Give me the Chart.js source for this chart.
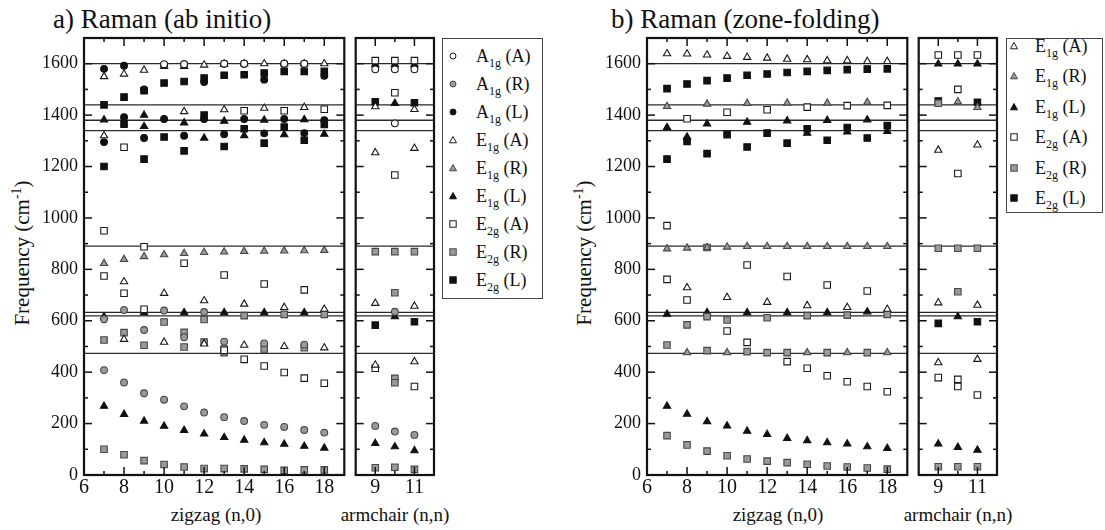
<!DOCTYPE html>
<html>
<head>
<meta charset="utf-8">
<script src="https://cdn.jsdelivr.net/npm/chart.js@4.4.1/dist/chart.umd.min.js"></script>
<style>
  body { margin: 0; background: #fff; width: 1105px; height: 530px; overflow: hidden; position: relative;
         font-family: "Liberation Serif", "Times New Roman", "DejaVu Serif", serif; color: #111; }
  canvas { position: absolute; top: 0; }
  .title { position: absolute; top: 6px; font-size: 27px; line-height: 27px; white-space: nowrap; }
  .ytitle { position: absolute; font-size: 21px; white-space: nowrap; transform: translate(-50%, -50%) rotate(-90deg); }
  .ytitle sup { font-size: 14px; }
  .xtitle { position: absolute; top: 503px; font-size: 19px; line-height: 24px; white-space: nowrap; transform: translateX(-50%); }
  .legend { position: absolute; top: 38px; border: 1.5px solid #444; box-sizing: border-box; background: #fff; }
  .row { position: absolute; left: 0; height: 22px; white-space: nowrap; font-size: 18px; }
  .row svg { position: absolute; top: 6px; }
  .row span { position: absolute; top: 0; line-height: 22px; }
  .row sub { font-size: 12px; }
</style>
</head>
<body>
<div class="title" style="left:53px">a) Raman (ab initio)</div>
<div class="title" style="left:611px">b) Raman (zone-folding)</div>
<div class="ytitle" style="left:22px; top:253px">Frequency (cm<sup>-1</sup>)</div>
<div class="ytitle" style="left:584px; top:253px">Frequency (cm<sup>-1</sup>)</div>
<div class="xtitle" style="left:216px">zigzag (n,0)</div>
<div class="xtitle" style="left:395px">armchair (n,n)</div>
<div class="xtitle" style="left:778px">zigzag (n,0)</div>
<div class="xtitle" style="left:958px">armchair (n,n)</div>

<canvas id="abZz" width="350" height="530" style="left:0px"></canvas>
<canvas id="abAc" width="90" height="530" style="left:350px"></canvas>
<canvas id="zfZz" width="350" height="530" style="left:563px"></canvas>
<canvas id="zfAc" width="90" height="530" style="left:913px"></canvas>

<div id="legA" class="legend" style="left:442px; width:101px; height:261px"></div>
<div id="legB" class="legend" style="left:1006px; width:97px; height:175px"></div>

<script>
// tubes and axes
const zigzagN = [7, 8, 9, 10, 11, 12, 13, 14, 15, 16, 17, 18];
const armchairN = [9, 10, 11];
const graphiteLines = [1600, 1440, 1380, 1340, 890, 633, 619, 473];
const freqTicks = [0, 200, 400, 600, 800, 1000, 1200, 1400, 1600];
const freqMinor = [100, 300, 500, 700, 900, 1100, 1300, 1500];
const zigzagTicks = [6, 8, 10, 12, 14, 16, 18];
const zigzagMinor = [7, 9, 11, 13, 15, 17];
const armchairTicks = [9, 11];
const armchairMinor = [10];

// a) ab initio, zigzag (one row per branch, n = 7..18)
const abZzA1gA = [[null, null, null, 1598, 1598, null, 1600, 1600, null, 1600, 1600, null]];
const abZzA1gR = [
  [408, 360, 318, 293, 267, 243, 225, 210, 195, 187, 175, 165],
  [606, 642, 564, 640, 536, 634, 519, null, 512, null, 507, null]
];
const abZzA1gL = [
  [1580, 1592, 1500, 1595, 1598, 1529, 1600, 1600, 1538, 1600, 1600, 1553],
  [1295, 1392, 1311, 1385, 1320, 1385, 1326, 1385, 1329, 1385, 1330, 1380]
];
const abZzE1gA = [
  [1550, 1560, 1575, 1590, 1590, 1595, 1598, 1600, 1600, 1600, 1600, 1600],
  [1320, null, null, null, 1414, null, 1421, null, 1427, null, 1430, null],
  [null, 752, null, 707, null, 678, null, 665, null, 652, null, 645],
  [null, 528, null, 517, null, 510, null, 505, null, 500, null, 495]
];
const abZzE1gR = [[823, 839, 850, 857, 862, 866, 868, 870, 871, 872, 873, 874]];
const abZzE1gL = [
  [1382, null, 1400, null, 1370, null, 1377, null, 1381, null, 1383, null],
  [null, null, 1356, null, null, 1311, null, 1320, null, 1324, null, 1326],
  [616, null, 632, null, 632, null, 632, null, 632, null, 632, null],
  [268, 236, 210, 190, 174, 160, 146, 136, 126, 120, 112, 105]
];
const abZzE2gA = [
  [null, 1275, null, null, null, null, null, 1417, null, 1417, null, 1423],
  [950, 707, 888, null, 824, null, 778, null, 743, null, 720, null],
  [774, null, 645, null, null, null, null, null, null, null, null, null],
  [null, null, null, null, null, null, 485, 450, 424, 399, 377, 357]
];
const abZzE2gR = [
  [525, 554, 505, 595, 555, 605, 490, 620, 490, 625, 495, 625],
  [null, null, null, null, 498, 517, 476, null, null, null, null, null],
  [100, 79, 56, 41, 31, 25, 25, 24, 22, 18, 20, 20]
];
const abZzE2gL = [
  [1440, 1470, 1495, 1525, 1531, 1544, 1555, 1557, 1564, 1570, 1570, 1570],
  [1200, 1365, 1229, 1315, 1261, 1400, 1278, 1347, 1291, 1354, 1302, 1364]
];

// a) ab initio, armchair (n = 9..11)
const abAcA1gA = [[1578, 1578, 1578], [null, 1368, null]];
const abAcA1gR = [[null, 635, null], [191, 169, 156]];
const abAcE1gA = [[1433, null, 1422], [1254, null, 1271], [668, null, 657], [428, null, 441]];
const abAcE1gL = [[1597, 1597, 1597], [null, 1446, null], [null, 616, null], [123, 110, 95]];
const abAcE2gA = [[1612, 1612, 1612], [null, 1487, null], [null, 1167, null], [415, null, 344]];
const abAcE2gR = [[869, 869, 869], [null, 709, null], [null, 376, null], [null, 359, null], [28, 30, 22]];
const abAcE2gL = [[1452, null, 1448], [583, null, 596]];

// b) zone-folding, zigzag
const zfZzE1gA = [
  [1639, 1638, 1634, 1629, 1625, 1622, 1618, 1616, 1612, 1612, 1609, 1609],
  [null, 729, null, 691, null, 672, null, 659, null, 652, null, 645]
];
const zfZzE1gR = [
  [1434, null, 1443, null, 1446, null, 1447, null, 1447, null, 1450, null],
  [880, 883, 885, 887, 889, 889, 889, 889, 889, 889, 889, 889],
  [null, 476, null, 476, null, null, null, 476, null, 476, null, 476]
];
const zfZzE1gL = [
  [1352, null, 1366, null, 1373, null, 1378, null, 1380, null, 1382, null],
  [null, 1315, null, null, null, null, null, 1330, null, 1335, null, 1337],
  [626, null, 632, null, 632, null, 632, null, 632, null, 635, null],
  [268, 237, 208, 191, 171, 158, 143, 134, 126, 121, 110, 104]
];
const zfZzE2gA = [
  [null, 1386, null, 1411, null, 1421, null, 1431, null, 1437, null, 1438],
  [970, null, null, null, null, null, null, null, null, null, null, null],
  [761, 681, null, null, 817, null, 772, null, 739, null, 716, null],
  [null, null, null, 560, 516, null, null, null, null, null, null, null],
  [null, null, null, null, null, null, 441, 415, 386, 363, 344, 324]
];
const zfZzE2gR = [
  [null, null, 885, null, null, null, null, null, null, null, null, null],
  [null, 584, 616, 603, null, 612, null, 620, null, 622, null, 625],
  [506, null, 484, null, 480, 476, 476, null, 476, null, 476, null],
  [153, 117, 93, 75, 62, 54, 48, 42, 35, 31, 27, 23]
];
const zfZzE2gL = [
  [1503, 1521, 1534, 1544, 1555, 1560, 1566, 1570, 1574, 1577, 1579, 1580],
  [1229, 1298, 1250, 1324, 1276, 1330, 1291, 1347, 1302, 1352, 1311, 1359]
];

// b) zone-folding, armchair
const zfAcE1gA = [[1264, null, 1284], [670, null, 661], [437, null, 450]];
const zfAcE1gR = [[null, 1452, 1430]];
const zfAcE1gL = [[1599, 1599, 1599], [null, 616, null], [121, 108, 97]];
const zfAcE2gA = [[1634, 1634, 1634], [null, 1500, null], [null, 1173, null], [379, 372, 311], [null, 344, null]];
const zfAcE2gR = [[1446, null, null], [882, 882, 882], [null, 713, null], [32, 32, 32]];
const zfAcE2gL = [[1455, null, 1450], [590, null, 596]];

// marker looks
const kinds = {
  A: { bg: '#ffffff', border: '#1a1a1a' },
  R: { bg: '#9a9a9a', border: '#474747' },
  L: { bg: '#111111', border: '#111111' }
};
const sizes = { circle: 3.4, triangle: 4.2, rect: 4.6 };
const serif = "'Liberation Serif', 'Times New Roman', serif";

function series(ns, branches, shape, kind) {
  const pts = [];
  branches.forEach(b => b.forEach((v, i) => { if (v !== null) pts.push({ x: ns[i], y: v }); }));
  return {
    data: pts, pointStyle: shape, pointRadius: sizes[shape],
    pointBackgroundColor: kinds[kind].bg, pointBorderColor: kinds[kind].border,
    pointBorderWidth: 1.1, showLine: false
  };
}

// frame, inward ticks and graphite reference lines
const frameTicks = {
  id: 'frameTicks',
  beforeDatasetsDraw(chart) {
    const { ctx, chartArea: a, scales: { y } } = chart;
    ctx.save();
    ctx.strokeStyle = '#2a2a2a';
    ctx.lineWidth = 1.3;
    graphiteLines.forEach(v => {
      const py = y.getPixelForValue(v);
      ctx.beginPath(); ctx.moveTo(a.left, py); ctx.lineTo(a.right, py); ctx.stroke();
    });
    ctx.restore();
  },
  afterDatasetsDraw(chart, args, opts) {
    const { ctx, chartArea: a, scales: { x, y } } = chart;
    const line = (x1, y1, x2, y2) => { ctx.beginPath(); ctx.moveTo(x1, y1); ctx.lineTo(x2, y2); ctx.stroke(); };
    ctx.save();
    ctx.strokeStyle = '#111';
    ctx.lineWidth = 1.5;
    opts.xMajor.forEach(v => { const p = x.getPixelForValue(v); line(p, a.bottom, p, a.bottom - 8); line(p, a.top, p, a.top + 8); });
    opts.xMinor.forEach(v => { const p = x.getPixelForValue(v); line(p, a.bottom, p, a.bottom - 4); line(p, a.top, p, a.top + 4); });
    freqTicks.forEach(v => { const p = y.getPixelForValue(v); line(a.left, p, a.left + 8, p); line(a.right, p, a.right - 8, p); });
    freqMinor.forEach(v => { const p = y.getPixelForValue(v); line(a.left, p, a.left + 4, p); line(a.right, p, a.right - 4, p); });
    ctx.lineWidth = 2.2;
    ctx.strokeRect(a.left, a.top, a.right - a.left, a.bottom - a.top);
    ctx.restore();
  }
};

function makeChart(id, datasets, o) {
  return new Chart(document.getElementById(id), {
    type: 'scatter',
    data: { datasets },
    options: {
      responsive: false, animation: false, events: [],
      layout: { padding: o.padding },
      plugins: {
        legend: { display: false }, tooltip: { enabled: false },
        frameTicks: { xMajor: o.xMajor, xMinor: o.xMinor }
      },
      scales: {
        x: {
          type: 'linear', min: o.xMin, max: o.xMax,
          afterBuildTicks: s => { s.ticks = o.xMajor.map(v => ({ value: v })); },
          afterFit: s => { s.height = 55; },
          grid: { display: false, drawTicks: false }, border: { display: false },
          ticks: { color: '#111', font: { family: serif, size: 20 }, padding: 1, maxRotation: 0, autoSkip: false,
                   callback: v => String(v) }
        },
        y: {
          type: 'linear', min: 0, max: 1700, display: o.showY,
          afterBuildTicks: s => { s.ticks = freqTicks.map(v => ({ value: v })); },
          afterFit: s => { if (o.showY) s.width = 84; },
          grid: { display: false, drawTicks: false }, border: { display: false },
          ticks: { color: '#111', font: { family: serif, size: 18 }, padding: 6, autoSkip: false,
                   callback: v => String(v) }
        }
      }
    },
    plugins: [frameTicks]
  });
}

const zzOpts = { xMin: 6, xMax: 19, xMajor: zigzagTicks, xMinor: zigzagMinor, showY: true,
  padding: { left: 0, right: 5, top: 38, bottom: 0 } };
const acOpts = { xMin: 8, xMax: 12, xMajor: armchairTicks, xMinor: armchairMinor, showY: false,
  padding: { left: 4, right: 6, top: 38, bottom: 0 } };

makeChart('abZz', [
  series(zigzagN, abZzA1gA, 'circle', 'A'),
  series(zigzagN, abZzA1gR, 'circle', 'R'),
  series(zigzagN, abZzE1gA, 'triangle', 'A'),
  series(zigzagN, abZzE1gR, 'triangle', 'R'),
  series(zigzagN, abZzE2gA, 'rect', 'A'),
  series(zigzagN, abZzE2gR, 'rect', 'R'),
  series(zigzagN, abZzA1gL, 'circle', 'L'),
  series(zigzagN, abZzE1gL, 'triangle', 'L'),
  series(zigzagN, abZzE2gL, 'rect', 'L')
], zzOpts);

makeChart('abAc', [
  series(armchairN, abAcA1gA, 'circle', 'A'),
  series(armchairN, abAcA1gR, 'circle', 'R'),
  series(armchairN, abAcE1gA, 'triangle', 'A'),
  series(armchairN, abAcE2gA, 'rect', 'A'),
  series(armchairN, abAcE2gR, 'rect', 'R'),
  series(armchairN, abAcE1gL, 'triangle', 'L'),
  series(armchairN, abAcE2gL, 'rect', 'L')
], acOpts);

makeChart('zfZz', [
  series(zigzagN, zfZzE1gA, 'triangle', 'A'),
  series(zigzagN, zfZzE1gR, 'triangle', 'R'),
  series(zigzagN, zfZzE2gA, 'rect', 'A'),
  series(zigzagN, zfZzE2gR, 'rect', 'R'),
  series(zigzagN, zfZzE1gL, 'triangle', 'L'),
  series(zigzagN, zfZzE2gL, 'rect', 'L')
], zzOpts);

makeChart('zfAc', [
  series(armchairN, zfAcE1gA, 'triangle', 'A'),
  series(armchairN, zfAcE1gR, 'triangle', 'R'),
  series(armchairN, zfAcE2gA, 'rect', 'A'),
  series(armchairN, zfAcE2gR, 'rect', 'R'),
  series(armchairN, zfAcE1gL, 'triangle', 'L'),
  series(armchairN, zfAcE2gL, 'rect', 'L')
], acOpts);

// legends with subscripts
const legendA = [['A', '1g', 'A', 'circle'], ['A', '1g', 'R', 'circle'], ['A', '1g', 'L', 'circle'],
  ['E', '1g', 'A', 'triangle'], ['E', '1g', 'R', 'triangle'], ['E', '1g', 'L', 'triangle'],
  ['E', '2g', 'A', 'rect'], ['E', '2g', 'R', 'rect'], ['E', '2g', 'L', 'rect']];
const legendB = legendA.slice(3);

function marker(shape, kind) {
  const k = kinds[kind];
  let s;
  if (shape === 'circle') s = `<circle cx="5" cy="5" r="3" />`;
  else if (shape === 'triangle') s = `<polygon points="5,1.5 8.5,7.8 1.5,7.8" />`;
  else s = `<rect x="1.8" y="1.8" width="6.4" height="6.4" />`;
  return `<svg width="10" height="10"><g fill="${k.bg}" stroke="${k.border}" stroke-width="1">${s}</g></svg>`;
}

function buildLegend(id, items, firstY, step, markerX, textX) {
  const box = document.getElementById(id);
  items.forEach((it, i) => {
    const row = document.createElement('div');
    row.className = 'row';
    row.style.top = (firstY + step * i - 11) + 'px';
    row.innerHTML = `<span style="left:${markerX - 5}px; top:0">${marker(it[3], it[2])}</span>` +
      `<span style="left:${textX}px">${it[0]}<sub>${it[1]}</sub> (${it[2]})</span>`;
    box.appendChild(row);
  });
}
buildLegend('legA', legendA, 17, 28, 10, 33);
buildLegend('legB', legendB, 7, 30.4, 7, 28);
</script>
</body>
</html>
